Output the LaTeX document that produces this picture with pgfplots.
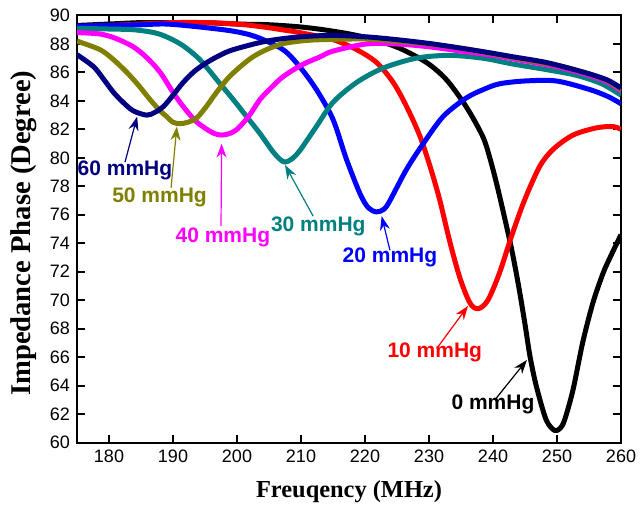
\documentclass[border=0pt]{standalone}
\usepackage{fontspec}
\setmainfont{Liberation Sans}
\newfontfamily\timesfont{Liberation Serif}
\usepackage{pgfplots}
\pgfplotsset{compat=1.18}
\usetikzlibrary{arrows.meta}

\definecolor{cteal}{RGB}{0,128,128}
\definecolor{colive}{RGB}{128,128,0}
\definecolor{cnavy}{RGB}{0,0,128}
\definecolor{cmag}{RGB}{255,0,255}

\begin{document}
\begin{tikzpicture}
  \begin{axis}[
    name=ax,
    scale only axis,
    width=272pt,
    height=213.5pt,
    xmin=175, xmax=260,
    ymin=60, ymax=90,
    xtick={180,190,...,260},
    ytick={60,62,...,90},
    tick align=inside,
    major tick length=4pt,
    axis line style={line width=1pt},
    every tick/.style={black,line width=1pt},
    tick label style={font=\fontsize{9}{10}\selectfont},
    /pgf/number format/assume math mode=true,
    xlabel={Freuqency (MHz)},
    ylabel={Impedance Phase (Degree)},
    xlabel style={font=\timesfont\bfseries\fontsize{12.2}{14}\selectfont,
                  at={(axis description cs:0.5,-0.114)},anchor=center},
    ylabel style={font=\timesfont\bfseries\fontsize{14.3}{16}\selectfont,
                  at={(axis description cs:-0.098,0.49)},anchor=center},
    every axis plot/.append style={line width=2.5pt, smooth, tension=0.5, line join=round, no markers},
  ]
    % 0 mmHg
    \addplot[black] coordinates {
      (175,89.3) (180,89.4) (185,89.5) (190,89.5) (195,89.5) (200,89.4)
      (205,89.35) (209.8,89.2) (213.5,89.0) (217.6,88.7) (221.5,88.3)
      (225.4,87.7) (229.6,86.7) (232.7,85.5) (235.8,83.6) (238.4,81.5)
      (239.5,80.0) (240.5,78.3) (241.5,76.4) (242.9,73.6) (244.0,71.0)
      (245.0,68.3) (245.8,66.0) (246.8,63.9) (248.3,61.6) (249.6,60.85)
      (250.5,61.0) (251.2,61.6) (252.5,63.7) (254.0,67.0) (255.6,69.8)
      (257.2,71.9) (258.5,73.2) (260,74.6)
    };
    % 10 mmHg
    \addplot[red] coordinates {
      (175,89.2) (180,89.3) (185,89.4) (190,89.5) (195,89.5) (200,89.4)
      (204,89.2) (207,89.0) (209.8,88.8) (215.0,88.3) (218.7,87.6)
      (221.8,86.7) (224.4,85.3) (226.5,83.6) (228.6,81.5) (230.3,79.2)
      (231.7,77.0) (233.2,74.2) (234.8,71.6) (236.4,69.8) (237.7,69.4)
      (239.2,70.0) (241.0,71.9) (242.9,74.5) (244.9,77.0) (247.3,79.4)
      (249.4,80.6) (252.5,81.6) (256.1,82.1) (258.7,82.2) (260,82.0)
    };
    % 20 mmHg
    \addplot[blue] coordinates {
      (175,89.25) (180,89.3) (185,89.35) (189,89.4) (194,89.2) (199.4,88.9)
      (203,88.5) (207.2,87.6) (209.8,86.4) (212.4,84.8) (215.0,82.7)
      (217.1,79.9) (219.2,77.5) (220.5,76.5) (221.8,76.2) (223.0,76.4)
      (223.9,77.0) (226.5,79.2) (229.1,81.0) (232.2,82.9) (235.8,84.2)
      (238.5,84.8) (241,85.2) (245,85.4) (249.9,85.4) (255.1,84.8)
      (258,84.3) (260,83.8)
    };
    % 30 mmHg
    \addplot[cteal] coordinates {
      (175,89.1) (180,89.05) (183.8,89.0) (187,88.8) (189.0,88.5)
      (191.5,87.9) (194.2,86.9) (197,85.4) (199.4,84.1) (201.5,82.9)
      (203.6,81.7) (205.5,80.5) (206.7,79.9) (207.5,79.7) (208.5,79.9)
      (209.8,80.5) (212.4,82.2) (215.0,83.9) (218.7,85.3) (222.8,86.3)
      (228.0,87.0) (233.2,87.2) (238.4,87.0) (243,86.6) (248.3,86.2)
      (253,85.8) (257,85.2) (260,84.4)
    };
    % 40 mmHg
    \addplot[cmag] coordinates {
      (175,88.8) (178.6,88.7) (181,88.4) (183.8,87.8) (186,87.0) (188.0,86.0)
      (190,84.6) (191.6,83.6) (193.5,82.6) (195.3,82.0) (196.5,81.7)
      (197.6,81.6) (198.8,81.7) (200.0,82.0) (201.8,82.9) (203.6,84.1)
      (205.5,85.0) (207.2,85.7) (210,86.5) (213.0,87.1) (215.0,87.5)
      (220.2,88.0) (225,88.0) (230,87.8) (235,87.5) (240,87.2) (245,86.8)
      (250,86.4) (255,85.8) (258,85.3) (260,84.7)
    };
    % 50 mmHg
    \addplot[colive] coordinates {
      (175,88.2) (178.6,87.6) (180.7,86.9) (182.8,86.0) (184.6,85.1)
      (186.4,84.1) (188,83.3) (189.0,82.9) (190,82.5) (191.1,82.4)
      (192.3,82.5) (193.7,82.8) (195.2,83.6) (196.8,84.6) (198.6,85.6)
      (200.5,86.4) (202.5,87.1) (204.6,87.6) (207,88.0) (209.8,88.2)
      (213,88.3) (220,88.35) (225,88.2) (230,88.0) (235,87.7) (240,87.3)
      (245,86.9) (250,86.5) (255,85.9) (258,85.4) (260,84.8)
    };
    % 60 mmHg
    \addplot[cnavy] coordinates {
      (175,87.25) (177.6,86.4) (179.2,85.5) (180.7,84.6) (182.2,83.9)
      (183.8,83.3) (185.9,83.0) (187.2,83.2) (188.5,83.6) (190,84.4)
      (191.6,85.3) (193.4,86.1) (195.3,86.7) (197.3,87.2) (199.4,87.6)
      (204.6,88.2) (209.8,88.5) (215,88.6) (220.2,88.5) (225,88.3)
      (230.6,88.0) (237.9,87.5) (243.1,87.1) (248.3,86.7) (253.5,86.1)
      (257.7,85.5) (260,84.9)
    };

    % annotations
    \tikzset{ann/.style={-{Stealth[length=7pt,width=5pt]}, line width=0.6pt},
             lab/.style={font=\bfseries\fontsize{10.5}{12}\selectfont, inner sep=0pt}}
    \draw[ann,cnavy] (axis cs:182.5,79.7) -- (axis cs:184.4,82.9);
    \node[lab,text=cnavy] at (axis cs:182.5,79.1) {60 mmHg};
    \draw[ann,colive] (axis cs:189.7,77.9) -- (axis cs:190.6,82.2);
    \node[lab,text=colive] at (axis cs:187.9,77.2) {50 mmHg};
    \draw[ann,cmag] (axis cs:197.5,75.2) -- (axis cs:197.6,81.0);
    \node[lab,text=cmag] at (axis cs:197.8,74.4) {40 mmHg};
    \draw[ann,cteal] (axis cs:211.9,75.9) -- (axis cs:207.5,79.5);
    \node[lab,text=cteal] at (axis cs:212.7,75.2) {30 mmHg};
    \draw[ann,blue] (axis cs:223.9,73.5) -- (axis cs:222.6,75.9);
    \node[lab,text=blue] at (axis cs:223.9,73.0) {20 mmHg};
    \draw[ann,red] (axis cs:231.2,66.6) -- (axis cs:236.1,69.6);
    \node[lab,text=red] at (axis cs:230.9,66.3) {10 mmHg};
    \draw[ann,black] (axis cs:240.3,63.0) -- (axis cs:245.3,65.8);
    \node[lab,text=black] at (axis cs:240.0,62.7) {0 mmHg};
  \end{axis}
  \pgfresetboundingbox
  \path ([shift={(-38.5pt,-35pt)}]ax.south west) rectangle ([shift={(10.5pt,7.75pt)}]ax.north east);
\end{tikzpicture}
\end{document}
